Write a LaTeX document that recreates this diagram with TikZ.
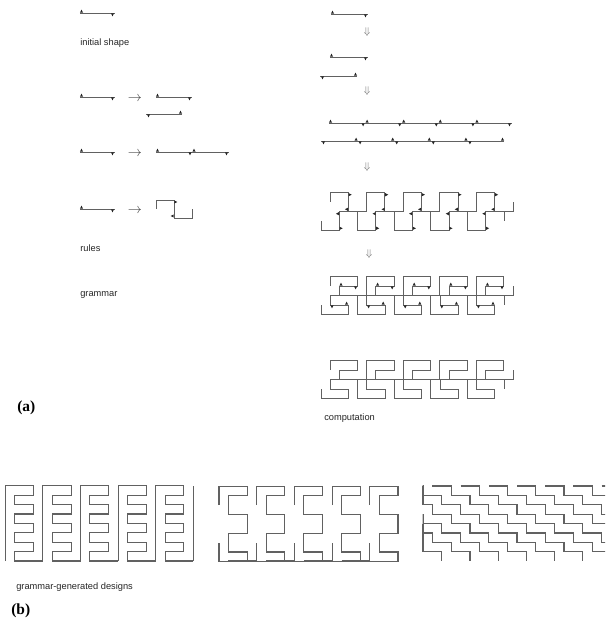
\documentclass[tikz,border=0pt]{standalone}
\usepackage{fontspec}
\newfontfamily\lbfont{Liberation Sans}
\newfontfamily\capfont{Liberation Serif}
\usetikzlibrary{positioning}

\tikzset{
  ln/.style={black!62,line width=0.65pt,line cap=butt,line join=miter},
  dsg/.style={ln,line width=0.8pt},
  mk/.style={fill=black!85},
  lbl/.style={font=\lbfont\fontsize{6.6}{8}\selectfont,anchor=west,inner sep=0pt,text=black!85},
  capt/.style={font=\capfont\bfseries\fontsize{11}{13}\selectfont,anchor=west,inner sep=0pt},
  arr/.style={inner sep=0pt,text=black!75},
  darr/.style={inner sep=0pt,text=black!55,font=\scriptsize}
}

% markers: up, down, right, left
\newcommand{\mkU}[2]{\fill[mk] ({#1-1.6},{#2-0.3}) -- ({#1+1.6},{#2-0.3}) -- ({#1},{#2-3.4}) -- cycle;}
\newcommand{\mkD}[2]{\fill[mk] ({#1-1.6},{#2+0.3}) -- ({#1+1.6},{#2+0.3}) -- ({#1},{#2+3.4}) -- cycle;}
\newcommand{\mkR}[2]{\fill[mk] ({#1+0.3},{#2-1.6}) -- ({#1+0.3},{#2+1.6}) -- ({#1+3.4},{#2}) -- cycle;}
\newcommand{\mkL}[2]{\fill[mk] ({#1-0.3},{#2-1.6}) -- ({#1-0.3},{#2+1.6}) -- ({#1-3.4},{#2}) -- cycle;}
% labelled shape and its mirror
\newcommand{\shp}[3]{\draw[ln] ({#1},{#2}) -- ++({#3},0); \mkU{#1+1.5}{#2}\mkD{#1+#3-2.5}{#2}}
\newcommand{\rshp}[3]{\draw[ln] ({#1},{#2}) -- ++({#3},0); \mkD{#1+2.5}{#2}\mkU{#1+#3-1.5}{#2}}
% meanders, amplitude #3
\newcommand{\mnd}[3]{\draw[ln] ({#1},{#2}) -- ++(0,{-#3}) -- ++({2*#3},0) -- ++(0,{2*#3}) -- ++({2*#3},0) -- ++(0,{-#3});}
\newcommand{\rmnd}[3]{\draw[ln] ({#1},{#2}) -- ++(0,{#3}) -- ++({2*#3},0) -- ++(0,{-2*#3}) -- ++({2*#3},0) -- ++(0,{#3});}
\newcommand{\mndb}[3]{\draw[ln] ({#1},{#2}) -- ++(0,{-#3}) -- ++({3*#3},0) -- ++(0,{#3}) -- ++({-2*#3},0) -- ++(0,{#3}) -- ++({3*#3},0) -- ++(0,{-#3});}
\newcommand{\rmndb}[3]{\draw[ln] ({#1},{#2}) -- ++(0,{#3}) -- ++({3*#3},0) -- ++(0,{-#3}) -- ++({-2*#3},0) -- ++(0,{-#3}) -- ++({3*#3},0) -- ++(0,{#3});}

\begin{document}
\begin{tikzpicture}[x=0.025cm,y=-0.025cm]
\useasboundingbox (0,0) rectangle (605,635);

% ---- grammar (left column)
\shp{80}{13}{35}
\node[lbl] (init) at (80,43) {initial shape};

\shp{80}{97}{35}
\node[arr] (ra) at (135,99) {$\rightarrow$};
\shp{156}{97}{36}
\rshp{146}{114}{36}

\shp{80}{152}{35}
\node[arr] (rb) at (135,154) {$\rightarrow$};
\shp{156}{152}{36.5}
\shp{192.5}{152}{36.5}

\shp{80}{209}{35}
\node[arr] (rc) at (135,211) {$\rightarrow$};
\mnd{156}{209}{9}
\mkR{174}{202}\mkL{174}{216}

\node[lbl] (rules) at (80,248) {rules};
\node[lbl] (gram) at (80,295) {grammar};
\node[capt] (capa) at (17,408) {(a)};

% ---- computation (right column)
\shp{331}{14}{37}
\node[darr] (da) at (367,32) {$\Downarrow$};
\shp{330}{57}{38}
\rshp{320}{76}{37}
\node[darr] (db) at (367,91) {$\Downarrow$};
\foreach \i in {0,...,4}{
  \shp{329+36.6*\i}{123}{36.6}
  \rshp{321+36.6*\i}{141}{36.6}
}
\node[darr] (dc) at (367,167) {$\Downarrow$};
\foreach \i in {0,...,4}{
  \mnd{330+36.6*\i}{202}{9.15}
  \mkR{330+36.6*\i+18.3}{194.7}\mkL{330+36.6*\i+18.3}{209.3}
  \rmnd{321+36.6*\i}{221}{9.15}
  \mkL{321+36.6*\i+18.3}{213.7}\mkR{321+36.6*\i+18.3}{228.3}
}
\node[darr] (dd) at (369,254) {$\Downarrow$};
\foreach \i in {0,...,4}{
  \mndb{330+36.6*\i}{286}{9.15}
  \mkU{330+36.6*\i+11}{286}\mkD{330+36.6*\i+25.6}{286}
  \rmndb{321+36.6*\i}{305}{9.15}
  \mkD{321+36.6*\i+11}{305}\mkU{321+36.6*\i+25.6}{305}
}
\foreach \i in {0,...,4}{
  \mndb{330+36.6*\i}{370}{9.15}
  \rmndb{321+36.6*\i}{389}{9.15}
}
\node[lbl] (comp) at (324,418) {computation};

% ---- grammar-generated designs (cell 9.4)
\foreach \i in {0,...,4}{
  \draw[dsg] ({5.3+37.6*\i},561) -- ++(0,-75.2) -- ++(28.2,0) -- ++(0,9.4) -- ++(-18.8,0) -- ++(0,9.4) -- ++(18.8,0)
    -- ++(0,9.4) -- ++(-18.8,0) -- ++(0,9.4) -- ++(18.8,0) -- ++(0,9.4) -- ++(-18.8,0) -- ++(0,9.4) -- ++(18.8,0)
    -- ++(0,9.4) -- ++(-18.8,0) -- ++(0,9.4) -- ++(28.2,0);
}
\draw[dsg] (193.3,486) -- (193.3,561);
\foreach \i in {0,...,4}{
  \draw[dsg] ({219+37.7*\i},505) -- ++(0,-18.8) -- ++(28.2,0) -- ++(0,9.4) -- ++(-18.8,0) -- ++(0,18.8)
    -- ++(18.8,0) -- ++(0,18.8) -- ++(-18.8,0) -- ++(0,18.8) -- ++(18.8,0) -- ++(0,9.4) -- ++(-28.2,0) -- ++(0,-18.8);
}
\foreach \i in {0,...,3}{
  \draw[dsg] ({228.4+37.7*\i},561) -- ++(28.2,0);
}
\begin{scope}
\clip (422.5,480) rectangle (605,568);
\foreach \i in {-5,...,6}{
  \draw[dsg] ({432.4+28.2*\i},486) -- ++(18.8,0) -- ++(0,9.4) -- ++(18.8,0) -- ++(0,9.4) -- ++(18.8,0) -- ++(0,9.4)
    -- ++(18.8,0) -- ++(0,9.4) -- ++(18.8,0) -- ++(0,9.4) -- ++(18.8,0) -- ++(0,9.4) -- ++(18.8,0) -- ++(0,9.4) -- ++(18.8,0) -- ++(0,9.4);
}
\end{scope}
\draw[dsg] (423,486) -- (423,505);
\draw[dsg] (423,524) -- (423,552);
\node[lbl] (ggd) at (16,587) {grammar-generated designs};
\node[capt] (capb) at (11,611) {(b)};
\end{tikzpicture}
\end{document}
